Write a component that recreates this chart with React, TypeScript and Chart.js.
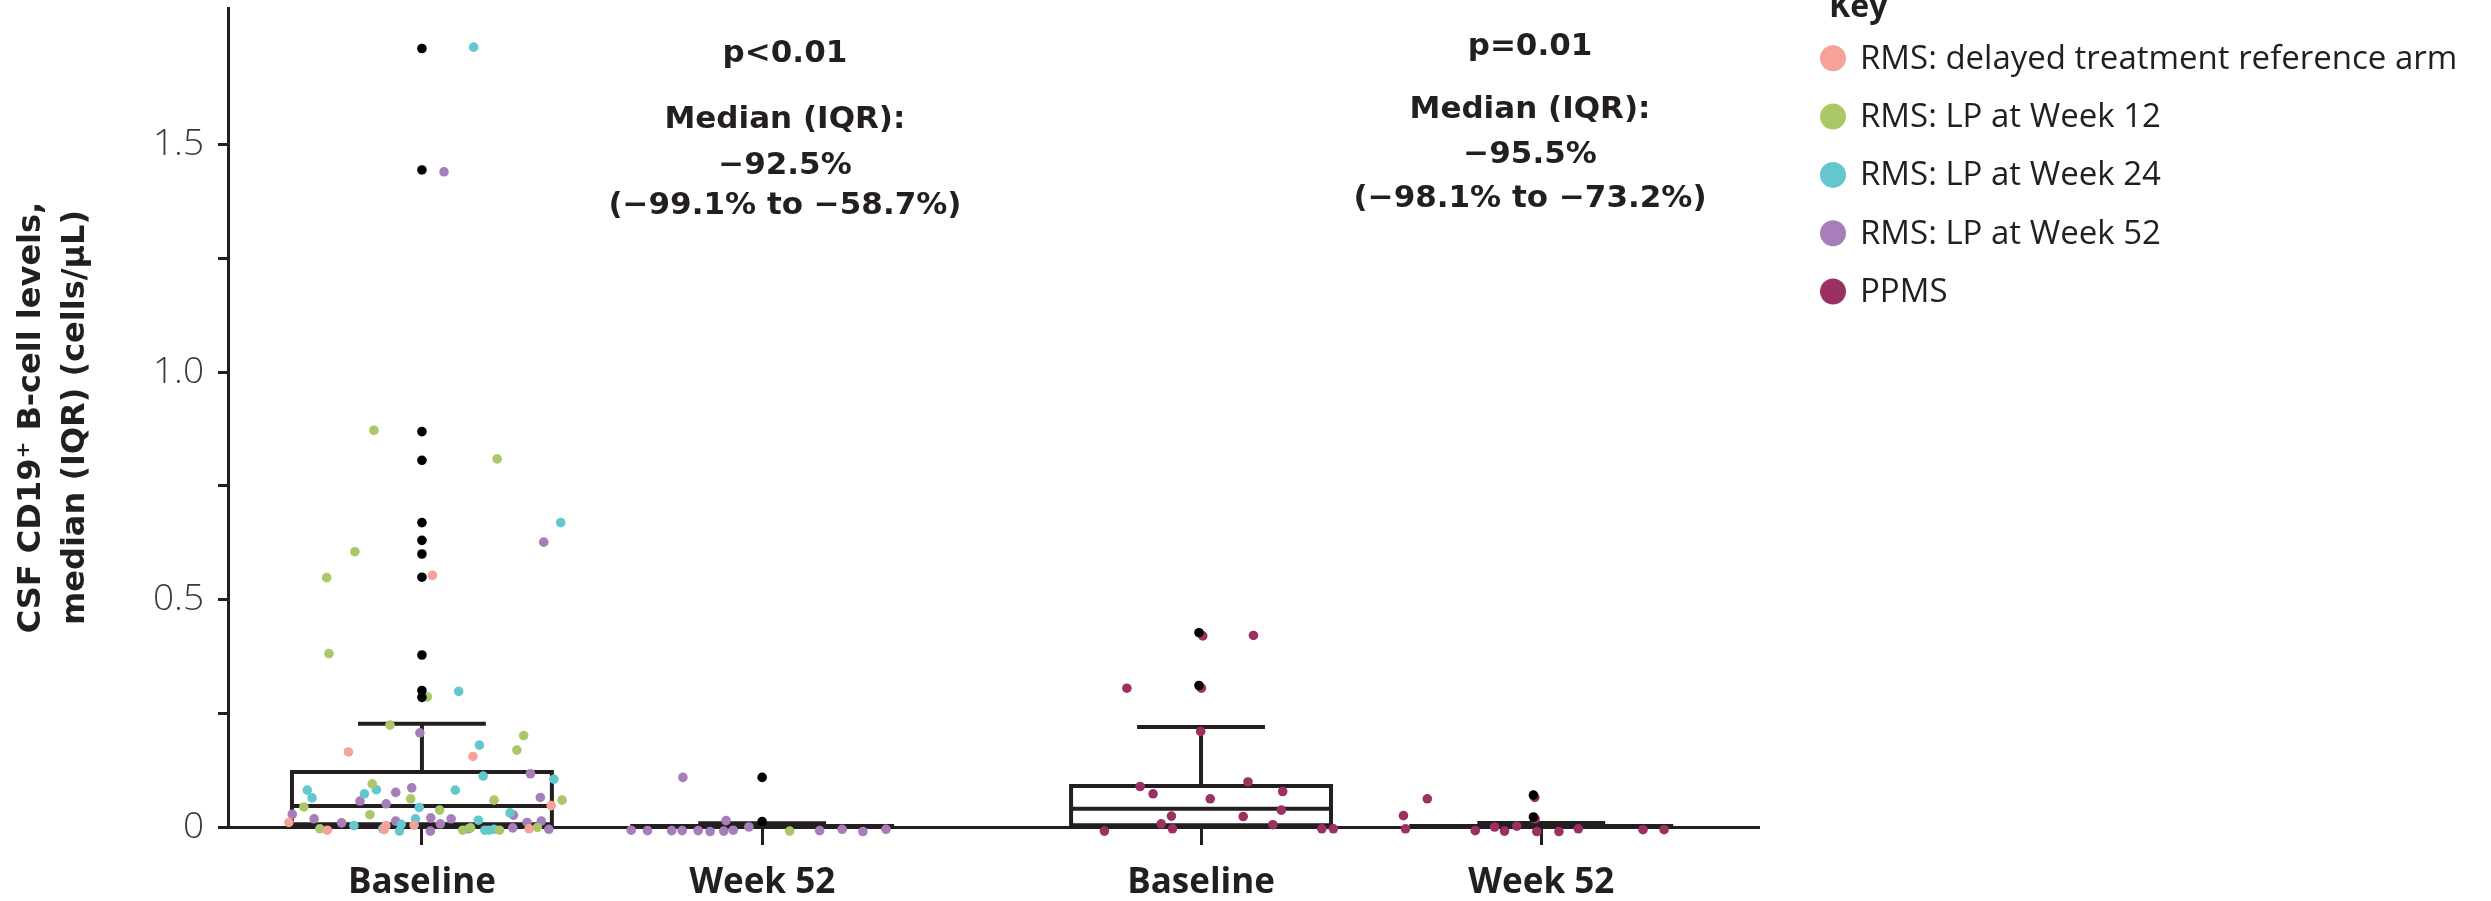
import React, { useEffect, useRef } from 'react';
import { Chart, registerables } from 'chart.js';

Chart.register(...registerables);

// ---------- data ----------
const categories = ['Baseline', 'Week 52', 'Baseline', 'Week 52'];
const categoryPositions = [1, 2, 3.29, 4.29];

const yTickValues = [0, 0.25, 0.5, 0.75, 1, 1.25, 1.5];
const yTickLabels = ['0', '', '0.5', '', '1.0', '', '1.5'];

const boxQ1 = [0.006, 0, 0.004, 0];
const boxMedian = [0.046, 0.001, 0.04, 0.001];
const boxQ3 = [0.121, 0.002, 0.09, 0.002];
const whiskerLow = [0, 0, 0.002, 0];
const whiskerHigh = [0.227, 0.008, 0.22, 0.009];

const seriesLabels = [
  'RMS: delayed treatment reference arm',
  'RMS: LP at Week 12',
  'RMS: LP at Week 24',
  'RMS: LP at Week 52',
  'PPMS',
];
const seriesColors = ['#F5A29B', '#AAC966', '#64C7CD', '#A77EBA', '#9B3163'];

const delayedRef = [
  [1.031, 0.553], [0.784, 0.165], [1.15, 0.155], [1.38, 0.047], [0.609, 0.01],
  [0.894, 0.003], [0.889, -0.006], [0.977, 0.004], [0.722, -0.007], [1.315, -0.004],
];

const lpWeek12 = [
  [0.859, 0.872], [1.221, 0.809], [0.803, 0.605], [0.72, 0.548], [0.727, 0.381],
  [1.016, 0.286], [0.906, 0.224], [1.299, 0.201], [1.279, 0.169], [0.854, 0.095],
  [0.967, 0.062], [1.212, 0.059], [1.412, 0.059], [0.653, 0.044], [0.847, 0.027],
  [1.052, 0.037], [0.7, -0.004], [1.12, -0.007], [1.143, -0.002], [1.228, -0.007],
  [1.339, -0.001], [2.081, -0.009],
];

const lpWeek24 = [
  [1.152, 1.714], [1.408, 0.669], [1.108, 0.298], [1.169, 0.18], [1.18, 0.112],
  [1.388, 0.105], [0.663, 0.081], [0.677, 0.064], [0.831, 0.073], [0.866, 0.082],
  [1.098, 0.081], [0.992, 0.043], [0.981, 0.018], [1.166, 0.015], [1.259, 0.031],
  [0.8, 0.003], [0.939, 0.006], [0.885, -0.004], [0.934, -0.009], [0.755, -0.013],
  [1.185, -0.007], [1.197, -0.007], [1.212, -0.005],
];

const lpWeek52 = [
  [1.065, 1.44], [1.358, 0.626], [0.994, 0.207], [1.319, 0.117], [0.923, 0.076],
  [0.97, 0.086], [0.818, 0.057], [0.895, 0.051], [1.348, 0.065], [0.619, 0.028],
  [0.683, 0.018], [1.026, 0.02], [1.086, 0.018], [1.054, 0.007], [1.269, 0.026],
  [0.764, 0.009], [0.923, 0.013], [1.025, -0.009], [1.309, 0.01], [1.351, 0.013],
  [1.136, -0.004], [1.267, -0.002], [1.373, -0.005],
  [1.767, 0.109], [1.894, 0.014], [1.961, 0.0], [1.615, -0.007], [1.663, -0.008],
  [1.682, -0.012], [1.734, -0.008], [1.765, -0.008], [1.812, -0.008], [1.847, -0.01],
  [1.887, -0.009], [1.915, -0.007], [2.136, -0.012], [2.169, -0.008], [2.235, -0.005],
  [2.296, -0.01], [2.304, -0.011], [2.364, -0.005], [2.385, -0.011],
];

const ppms = [
  [3.295, 0.42], [3.444, 0.421], [3.072, 0.305], [3.291, 0.305], [3.289, 0.21],
  [3.111, 0.089], [3.149, 0.073], [3.428, 0.099], [3.53, 0.078], [3.317, 0.062],
  [3.526, 0.037], [3.203, 0.024], [3.414, 0.023], [3.173, 0.007], [3.206, -0.004],
  [3.501, 0.005], [3.006, -0.009], [3.645, -0.004], [3.679, -0.004],
  [3.955, 0.062], [3.885, 0.025], [3.891, -0.004], [4.271, 0.065], [4.272, 0.018],
  [4.096, -0.008], [4.153, 0.0], [4.182, -0.009], [4.218, 0.002], [4.24, -0.012],
  [4.277, -0.01], [4.342, -0.01], [4.399, -0.004], [4.589, -0.006], [4.651, -0.006],
];

const outliers = [
  [1, 1.711], [1, 1.444], [1, 0.869], [1, 0.806], [1, 0.669], [1, 0.63], [1, 0.6],
  [1, 0.549], [1, 0.378], [1, 0.3], [1, 0.285],
  [2, 0.109], [2, 0.012],
  [3.284, 0.427], [3.284, 0.311],
  [4.267, 0.07], [4.267, 0.022],
];

const annotationTexts = [
  ['p<0.01', 'Median (IQR):', '\u221292.5%', '(\u221299.1% to \u221258.7%)'],
  ['p=0.01', 'Median (IQR):', '\u221295.5%', '(\u221298.1% to \u221273.2%)'],
];

const yTitle = ['CSF CD19\u207A B-cell levels,', 'median (IQR) (cells/\u00B5L)'];

// ---------- styling / geometry constants ----------
const INK = '#231F20';
const BOX_HALF = 0.382;
const CAP_HALF = 0.182;
const annotationAnchorX = [2.067, 4.257];
const annotationLineY = [
  [1.698, 1.553, 1.452, 1.364],
  [1.715, 1.577, 1.478, 1.381],
];

const toXY = (arr: number[][]) => arr.map(([x, y]) => ({ x, y }));

function boxOutlineData() {
  const pts: { x: number; y: number | null }[] = [];
  categoryPositions.forEach((c, i) => {
    const l = c - BOX_HALF;
    const r = c + BOX_HALF;
    pts.push({ x: l, y: boxQ1[i] }, { x: l, y: boxQ3[i] }, { x: r, y: boxQ3[i] }, { x: r, y: boxQ1[i] }, { x: l, y: boxQ1[i] });
    pts.push({ x: c, y: null });
    pts.push({ x: l, y: boxMedian[i] }, { x: r, y: boxMedian[i] });
    pts.push({ x: c, y: null });
    pts.push({ x: c, y: boxQ3[i] }, { x: c, y: whiskerHigh[i] });
    pts.push({ x: c, y: null });
    pts.push({ x: c - CAP_HALF, y: whiskerHigh[i] }, { x: c + CAP_HALF, y: whiskerHigh[i] });
    pts.push({ x: c, y: null });
    pts.push({ x: c, y: boxQ1[i] }, { x: c, y: whiskerLow[i] });
    pts.push({ x: c, y: null });
    pts.push({ x: c - CAP_HALF, y: whiskerLow[i] }, { x: c + CAP_HALF, y: whiskerLow[i] });
    pts.push({ x: c, y: null });
  });
  return pts;
}

const keyLegendPlugin = {
  id: 'keyLegend',
  afterDraw(chart: any) {
    const ctx = chart.ctx;
    ctx.save();
    ctx.fillStyle = INK;
    ctx.textAlign = 'left';
    ctx.textBaseline = 'alphabetic';
    ctx.font = "bold 32px 'Open Sans'";
    ctx.fillText('Key', 1829, 17);
    ctx.font = "33px 'Open Sans'";
    ctx.textBaseline = 'middle';
    seriesLabels.forEach((label, i) => {
      const y = 58.3 + i * 58.3;
      ctx.beginPath();
      ctx.fillStyle = seriesColors[i];
      ctx.arc(1833, y, 13, 0, Math.PI * 2);
      ctx.fill();
      ctx.fillStyle = INK;
      ctx.fillText(label, 1860, y + 1);
    });
    ctx.restore();
  },
};

const annotationPlugin = {
  id: 'medianText',
  afterDraw(chart: any) {
    const ctx = chart.ctx;
    const xs = chart.scales.x;
    const ys = chart.scales.y;
    ctx.save();
    ctx.fillStyle = INK;
    ctx.textAlign = 'center';
    ctx.textBaseline = 'middle';
    ctx.font = "bold 31px 'DejaVu Sans'";
    annotationTexts.forEach((lines, b) => {
      const px = xs.getPixelForValue(annotationAnchorX[b]);
      lines.forEach((t, j) => {
        ctx.fillText(t, px, ys.getPixelForValue(annotationLineY[b][j]));
      });
    });
    ctx.restore();
  },
};

function pointDataset(label: string, data: number[][], color: string, order: number) {
  return {
    type: 'scatter' as const,
    label,
    data: toXY(data),
    backgroundColor: color,
    borderColor: color,
    borderWidth: 0,
    pointRadius: 4.8,
    pointHoverRadius: 4.8,
    clip: false as any,
    order,
  };
}

export default function App() {
  const ref = useRef<HTMLCanvasElement>(null);

  useEffect(() => {
    if (!ref.current) return;
    const datasets: any[] = [
      pointDataset('Outliers', outliers, '#000000', 0),
      pointDataset(seriesLabels[0], delayedRef, seriesColors[0], 1),
      pointDataset(seriesLabels[1], lpWeek12, seriesColors[1], 1),
      pointDataset(seriesLabels[2], lpWeek24, seriesColors[2], 1),
      pointDataset(seriesLabels[3], lpWeek52, seriesColors[3], 1),
      pointDataset(seriesLabels[4], ppms, seriesColors[4], 1),
      {
        type: 'line',
        label: 'Box plot',
        data: boxOutlineData(),
        borderColor: INK,
        backgroundColor: 'transparent',
        borderWidth: 4,
        pointRadius: 0,
        pointHoverRadius: 0,
        spanGaps: false,
        tension: 0,
        fill: false,
        borderJoinStyle: 'miter',
        borderCapStyle: 'square',
        clip: false,
        order: 10,
      },
    ];

    const chart = new Chart(ref.current, {
      type: 'scatter',
      data: { datasets },
      plugins: [keyLegendPlugin, annotationPlugin],
      options: {
        animation: false,
        responsive: false,
        devicePixelRatio: 1,
        events: [],
        layout: { padding: { top: 8, right: 732, bottom: 0, left: 0 } },
        plugins: {
          legend: { display: false },
          tooltip: { enabled: false },
          title: { display: false },
        },
        scales: {
          x: {
            type: 'linear',
            min: 0.43,
            max: 4.93,
            afterBuildTicks: (scale: any) => {
              scale.ticks = categoryPositions.map((v) => ({ value: v }));
            },
            afterFit: (scale: any) => {
              scale.height = 74;
              scale.paddingLeft = 0;
              scale.paddingRight = 0;
            },
            grid: {
              display: true,
              drawOnChartArea: false,
              drawTicks: true,
              tickLength: 18,
              tickWidth: 3,
              tickColor: INK,
            },
            border: { display: true, color: INK, width: 3 },
            ticks: {
              autoSkip: false,
              maxRotation: 0,
              minRotation: 0,
              padding: 17,
              color: INK,
              font: { family: "'Open Sans'", size: 35, weight: 'bold' },
              callback: (_v: any, i: number) => categories[i],
            },
          },
          y: {
            type: 'linear',
            min: 0,
            max: 1.8,
            afterBuildTicks: (scale: any) => {
              scale.ticks = yTickValues.map((v) => ({ value: v }));
            },
            afterFit: (scale: any) => {
              scale.width = 228;
              scale.paddingTop = 0;
              scale.paddingBottom = 0;
            },
            grid: {
              display: true,
              drawOnChartArea: false,
              drawTicks: true,
              tickLength: 10,
              tickWidth: 3,
              tickColor: INK,
            },
            border: { display: true, color: INK, width: 3 },
            ticks: {
              padding: 14,
              color: '#3a3a3a',
              font: { family: "'Open Sans'", size: 37, weight: 300 },
              callback: (_v: any, i: number) => yTickLabels[i],
            },
            title: {
              display: true,
              text: yTitle,
              color: INK,
              padding: { top: 10, bottom: 0 },
              font: { family: "'DejaVu Sans'", size: 32, weight: 'bold', lineHeight: 1.375 },
            },
          },
        },
      } as any,
    });
    return () => chart.destroy();
  }, []);

  return (
    <div style={{ position: 'fixed', left: 0, top: 0, width: 2491, height: 901, background: '#ffffff' }}>
      <canvas ref={ref} width={2491} height={901} style={{ display: 'block', width: 2491, height: 901 }} />
    </div>
  );
}
